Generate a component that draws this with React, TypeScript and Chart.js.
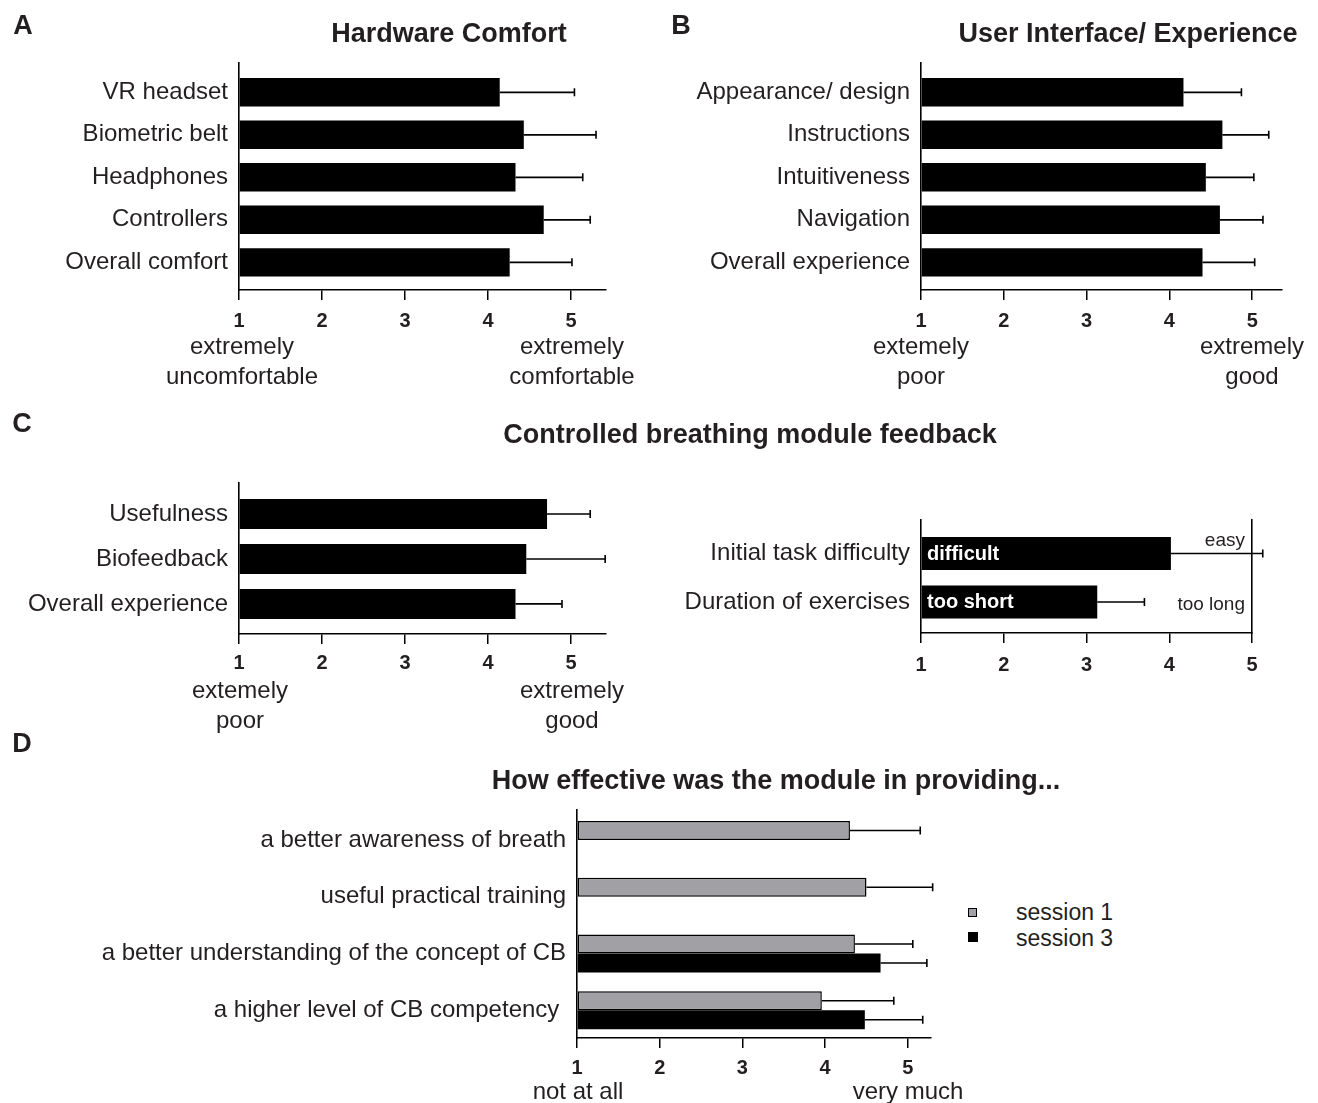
import React, { useEffect, useRef } from 'react';
import { Chart, registerables } from 'chart.js';

Chart.register(...registerables);

const FONT = '"Liberation Sans", Arial, Helvetica, sans-serif';
const TEXT = '#231f20';

// ---------- Data ----------
const scaleTicks = [1, 2, 3, 4, 5];

// A: Hardware comfort
const hardwareLabels = ['VR headset', 'Biometric belt', 'Headphones', 'Controllers', 'Overall comfort'];
const hardwareMeans = [4.14, 4.43, 4.33, 4.67, 4.26];
const hardwareSD = [0.90, 0.87, 0.81, 0.56, 0.75];

// B: User interface / experience
const uiLabels = ['Appearance/ design', 'Instructions', 'Intuitiveness', 'Navigation', 'Overall experience'];
const uiMeans = [4.17, 4.64, 4.44, 4.61, 4.40];
const uiSD = [0.70, 0.56, 0.58, 0.52, 0.63];

// C (left): Controlled breathing module feedback
const cbLabels = ['Usefulness', 'Biofeedback', 'Overall experience'];
const cbMeans = [4.71, 4.46, 4.33];
const cbSD = [0.52, 0.95, 0.56];

// C (right): task difficulty / duration
const taskLabels = ['Initial task difficulty', 'Duration of exercises'];
const taskMeans = [4.02, 3.13];
const taskSD = [1.11, 0.57];
const taskLowLabels = ['difficult', 'too short'];
const taskHighLabels = ['easy', 'too long'];

// D: effectiveness by session
const effLabels = [
  'a better awareness of breath',
  'useful practical training',
  'a better understanding of the concept of CB',
  'a higher level of CB competency ',
];
const session1Means = [4.30, 4.50, 4.36, 3.96];
const session1SD = [0.85, 0.80, 0.70, 0.87];
const session3Means = [null, null, 4.67, 4.48];
const session3SD = [null, null, 0.56, 0.70];
const sessionNames = ['session 1', 'session 3'];

// ---------- Plugins ----------
const errorBarPlugin = {
  id: 'errorBars',
  afterDatasetsDraw(chart: any) {
    const ctx = chart.ctx;
    const xs = chart.scales.x;
    chart.data.datasets.forEach((ds: any, di: number) => {
      if (!ds.errors) return;
      const meta = chart.getDatasetMeta(di);
      meta.data.forEach((bar: any, i: number) => {
        const v = ds.data[i] ? ds.data[i].x : null;
        const e = ds.errors[i];
        if (v == null || e == null) return;
        const x0 = xs.getPixelForValue(v);
        const x1 = xs.getPixelForValue(v + e);
        const y = bar.y;
        ctx.save();
        ctx.strokeStyle = '#000';
        ctx.lineWidth = 1.6;
        ctx.beginPath();
        ctx.moveTo(x0, y);
        ctx.lineTo(x1, y);
        ctx.moveTo(x1, y - 4);
        ctx.lineTo(x1, y + 4);
        ctx.stroke();
        ctx.restore();
      });
    });
  },
};

const barTextPlugin = {
  id: 'barTexts',
  afterDatasetsDraw(chart: any) {
    const ctx = chart.ctx;
    const xs = chart.scales.x;
    chart.data.datasets.forEach((ds: any, di: number) => {
      const meta = chart.getDatasetMeta(di);
      meta.data.forEach((bar: any, i: number) => {
        ctx.save();
        if (ds.lowLabels && ds.lowLabels[i]) {
          ctx.font = `bold 20px ${FONT}`;
          ctx.fillStyle = '#fff';
          ctx.textAlign = 'left';
          ctx.textBaseline = 'middle';
          ctx.fillText(ds.lowLabels[i], xs.left + 6, bar.y + 1);
        }
        if (ds.highLabels && ds.highLabels[i]) {
          ctx.font = `19px ${FONT}`;
          ctx.fillStyle = TEXT;
          ctx.textAlign = 'right';
          ctx.textBaseline = 'middle';
          const xr = xs.right - 7;
          const w = ctx.measureText(ds.highLabels[i]).width;
          const errEnd = xs.getPixelForValue(ds.data[i].x + (ds.errors ? ds.errors[i] : 0));
          const y = errEnd > xr - w ? bar.y - 13 : bar.y + 3;
          ctx.fillText(ds.highLabels[i], xr, y);
        }
        ctx.restore();
      });
    });
  },
};

// ---------- Config builder ----------
type HBarOpts = {
  labels: string[];
  datasets: any[];
  yWidth: number;
  padTop: number;
  padRight: number;
  xHeight: number;
  xMax: number;
  yMin: number;
  yMax: number;
  catFrac: number;
  tickPad: number;
  rightBorder?: boolean;
};

function hBarConfig(o: HBarOpts): any {
  const scales: any = {
    x: {
      type: 'linear',
      offset: false,
      min: 1,
      max: o.xMax,
      afterBuildTicks: (s: any) => {
        s.ticks = scaleTicks.map((v) => ({ value: v }));
      },
      afterFit: (s: any) => {
        s.height = o.xHeight;
      },
      ticks: {
        font: { family: FONT, size: 20, weight: 'bold' },
        color: TEXT,
        padding: o.tickPad,
        autoSkip: false,
        maxRotation: 0,
      },
      grid: {
        display: true,
        offset: false,
        drawOnChartArea: false,
        drawTicks: true,
        tickLength: 10,
        color: '#000',
        lineWidth: 1.5,
      },
      border: { display: true, color: '#000', width: 1.6 },
    },
    y: {
      type: 'linear',
      offset: false,
      reverse: true,
      min: o.yMin,
      max: o.yMax,
      afterBuildTicks: (s: any) => {
        s.ticks = o.labels.map((_, i) => ({ value: i }));
      },
      afterFit: (s: any) => {
        s.width = o.yWidth;
      },
      ticks: {
        callback: (_v: any, idx: number) => o.labels[idx],
        font: { family: FONT, size: 24 },
        color: TEXT,
        padding: 11,
        autoSkip: false,
      },
      grid: { display: false, drawTicks: false, offset: false },
      border: { display: true, color: '#000', width: 1.6 },
    },
  };
  if (o.rightBorder) {
    scales.y2 = {
      type: 'linear',
      position: 'right',
      display: true,
      offset: false,
      ticks: { display: false },
      grid: { display: false, drawTicks: false },
      border: { display: true, color: '#000', width: 1.6 },
      afterFit: (s: any) => {
        s.width = 0;
      },
    };
  }
  return {
    type: 'bar',
    data: {
      datasets: o.datasets.map((d) => ({
        base: 1,
        categoryPercentage: o.catFrac,
        barPercentage: 1,
        borderWidth: 0,
        ...d,
      })),
    },
    options: {
      indexAxis: 'y',
      responsive: false,
      maintainAspectRatio: false,
      animation: false,
      devicePixelRatio: 1,
      events: [],
      layout: { padding: { left: 0, top: o.padTop, right: o.padRight, bottom: 0 } },
      plugins: { legend: { display: false }, tooltip: { enabled: false } },
      scales,
    },
    plugins: [errorBarPlugin, barTextPlugin],
  };
}

const toPoints = (vals: (number | null)[]) => vals.map((v, i) => ({ x: v, y: i }));

// ---------- Components ----------
function ChartBox(props: { left: number; top: number; width: number; height: number; make: () => any }) {
  const ref = useRef<HTMLCanvasElement>(null);
  useEffect(() => {
    const chart = new Chart(ref.current as HTMLCanvasElement, props.make());
    return () => chart.destroy();
  }, []);
  return (
    <canvas
      ref={ref}
      width={props.width}
      height={props.height}
      style={{ position: 'absolute', left: props.left, top: props.top, width: props.width, height: props.height }}
    />
  );
}

function Txt(props: { x: number; y: number; size: number; bold?: boolean; children: React.ReactNode; align?: 'center' | 'left' }) {
  const align = props.align || 'center';
  return (
    <div
      style={{
        position: 'absolute',
        left: props.x,
        top: props.y,
        transform: align === 'center' ? 'translate(-50%, -50%)' : 'translate(0, -50%)',
        fontFamily: FONT,
        fontSize: props.size,
        fontWeight: props.bold ? 'bold' : 'normal',
        lineHeight: 1,
        whiteSpace: 'pre',
        color: TEXT,
        zIndex: 2,
      }}
    >
      {props.children}
    </div>
  );
}

export default function App() {
  return (
    <div
      style={{
        position: 'absolute',
        left: 0,
        top: 0,
        width: 1318,
        height: 1103,
        background: '#fff',
        overflow: 'hidden',
      }}
    >
      {/* Panel A */}
      <ChartBox
        left={0}
        top={0}
        width={640}
        height={345}
        make={() =>
          hBarConfig({
            labels: hardwareLabels,
            datasets: [{ label: 'Hardware', data: toPoints(hardwareMeans), backgroundColor: '#000', errors: hardwareSD }],
            yWidth: 239,
            padTop: 63,
            padRight: 34,
            xHeight: 55,
            xMax: 5.42,
            yMin: -0.69,
            yMax: 4.65,
            catFrac: 0.67,
            tickPad: 9,
          })
        }
      />
      {/* Panel B */}
      <ChartBox
        left={660}
        top={0}
        width={658}
        height={345}
        make={() =>
          hBarConfig({
            labels: uiLabels,
            datasets: [{ label: 'UI', data: toPoints(uiMeans), backgroundColor: '#000', errors: uiSD }],
            yWidth: 261,
            padTop: 63,
            padRight: 36,
            xHeight: 55,
            xMax: 5.36,
            yMin: -0.69,
            yMax: 4.65,
            catFrac: 0.67,
            tickPad: 9,
          })
        }
      />
      {/* Panel C left */}
      <ChartBox
        left={0}
        top={400}
        width={640}
        height={280}
        make={() =>
          hBarConfig({
            labels: cbLabels,
            datasets: [{ label: 'CB', data: toPoints(cbMeans), backgroundColor: '#000', errors: cbSD }],
            yWidth: 239,
            padTop: 83,
            padRight: 34,
            xHeight: 46,
            xMax: 5.42,
            yMin: -0.69,
            yMax: 2.67,
            catFrac: 0.667,
            tickPad: 7,
          })
        }
      />
      {/* Panel C right */}
      <ChartBox
        left={660}
        top={400}
        width={658}
        height={280}
        make={() =>
          hBarConfig({
            labels: taskLabels,
            datasets: [
              {
                label: 'Task',
                data: toPoints(taskMeans),
                backgroundColor: '#000',
                errors: taskSD,
                lowLabels: taskLowLabels,
                highLabels: taskHighLabels,
              },
            ],
            yWidth: 261,
            padTop: 120,
            padRight: 66,
            xHeight: 47,
            xMax: 5,
            yMin: -0.69,
            yMax: 1.64,
            catFrac: 0.68,
            tickPad: 10,
            rightBorder: true,
          })
        }
      />
      {/* Panel D */}
      <ChartBox
        left={0}
        top={760}
        width={960}
        height={330}
        make={() =>
          hBarConfig({
            labels: effLabels,
            datasets: [
              {
                label: sessionNames[0],
                data: toPoints(session1Means),
                backgroundColor: '#a1a1a5',
                borderColor: '#000',
                borderWidth: 1.5,
                borderSkipped: false,
                errors: session1SD,
              },
              {
                label: sessionNames[1],
                data: toPoints(session3Means),
                backgroundColor: '#000',
                errors: session3SD,
              },
            ],
            yWidth: 577,
            padTop: 50,
            padRight: 29,
            xHeight: 52,
            xMax: 5.28,
            yMin: -0.53,
            yMax: 3.49,
            catFrac: 0.67,
            tickPad: 8,
          })
        }
      />

      {/* Panel letters */}
      <Txt x={23} y={25} size={27} bold>A</Txt>
      <Txt x={681} y={25} size={27} bold>B</Txt>
      <Txt x={22} y={423} size={27} bold>C</Txt>
      <Txt x={22} y={743} size={27} bold>D</Txt>

      {/* Titles */}
      <Txt x={449} y={33} size={27} bold>Hardware Comfort</Txt>
      <Txt x={1128} y={33} size={27} bold>User Interface/ Experience</Txt>
      <Txt x={750} y={434} size={27} bold>Controlled breathing module feedback</Txt>
      <Txt x={776} y={780} size={27} bold>How effective was the module in providing...</Txt>

      {/* Axis descriptors A */}
      <Txt x={242} y={346} size={24}>extremely</Txt>
      <Txt x={242} y={376} size={24}>uncomfortable</Txt>
      <Txt x={572} y={346} size={24}>extremely</Txt>
      <Txt x={572} y={376} size={24}>comfortable</Txt>
      {/* Axis descriptors B */}
      <Txt x={921} y={346} size={24}>extemely</Txt>
      <Txt x={921} y={376} size={24}>poor</Txt>
      <Txt x={1252} y={346} size={24}>extremely</Txt>
      <Txt x={1252} y={376} size={24}>good</Txt>
      {/* Axis descriptors C */}
      <Txt x={240} y={690} size={24}>extemely</Txt>
      <Txt x={240} y={720} size={24}>poor</Txt>
      <Txt x={572} y={690} size={24}>extremely</Txt>
      <Txt x={572} y={720} size={24}>good</Txt>
      {/* Axis descriptors D */}
      <Txt x={578} y={1091} size={24}>not at all</Txt>
      <Txt x={908} y={1091} size={24}>very much</Txt>

      {/* Legend D */}
      <div
        style={{
          position: 'absolute',
          left: 968,
          top: 908,
          width: 7,
          height: 7,
          background: '#a1a1a5',
          border: '1.5px solid #000',
        }}
      />
      <div style={{ position: 'absolute', left: 968, top: 932, width: 10, height: 10, background: '#000' }} />
      <Txt x={1016} y={912} size={23} align="left">{sessionNames[0]}</Txt>
      <Txt x={1016} y={938} size={23} align="left">{sessionNames[1]}</Txt>
    </div>
  );
}
